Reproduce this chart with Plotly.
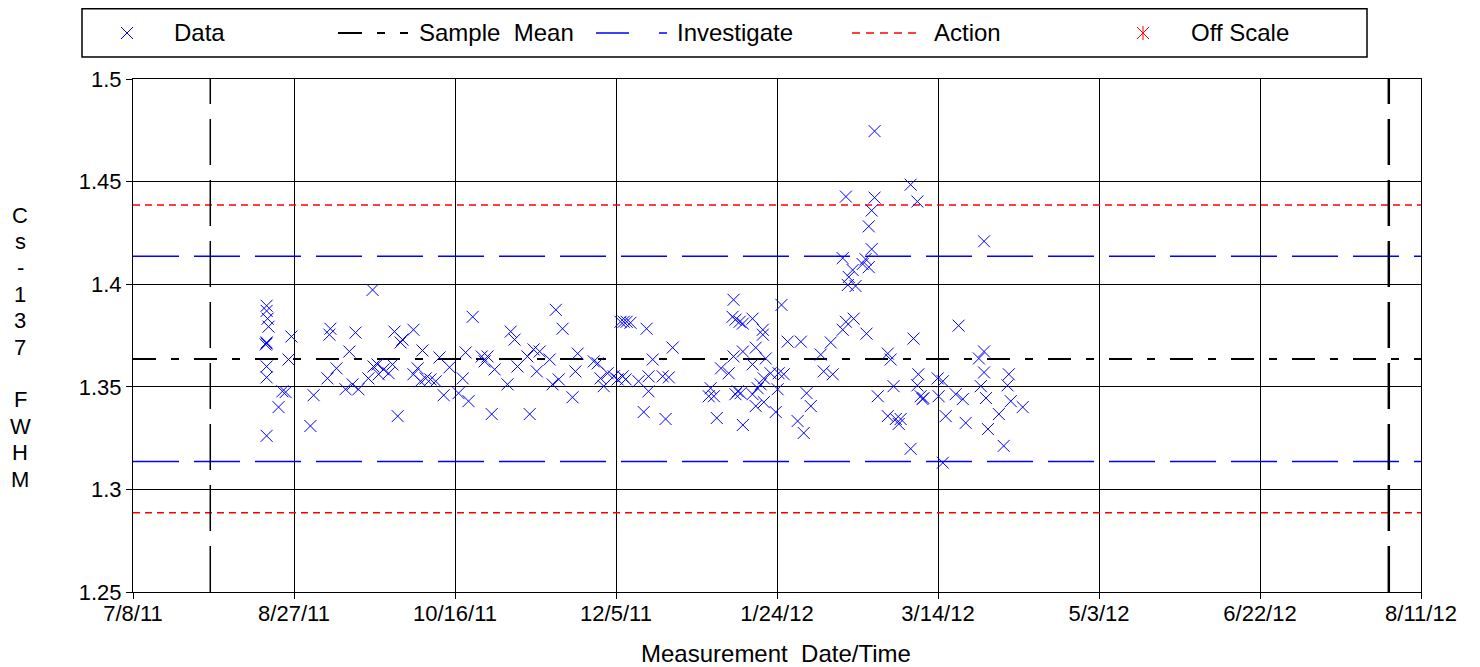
import plotly.graph_objects as go
import pandas as pd

# --- data --------------------------------------------------------------
start_date = "2011-07-08"
end_date = "2012-08-11"
tick_step_days = 50

# elapsed days since 7/8/11 and the Cs-137 FWHM value of each measurement
meas_days = [
    41.5, 41.5, 41.8, 42.1, 41.5, 41.5, 41.2, 41.5, 41.5, 41.5,
    49.2, 48.3, 46.4, 47.4, 45.2, 55.1, 56.1,
    61.3, 61.0, 63.2, 60.4, 67.2, 66.0, 68.2, 70.0, 69.1, 74.4,
    74.7, 75.9, 73.1, 76.3, 77.8, 80.6, 79.4,
    81.2, 87.1, 83.7, 83.1, 82.2,
    88.4, 89.9, 89.3, 90.9, 87.1,
    95.2, 98.3, 96.5, 94.0, 92.4,
    102.4, 101.1, 104.2, 103.3, 105.5,
    108.3, 110.1, 109.2, 112.3, 111.4,
    116.3, 117.3, 118.5, 119.4,
    123.2, 122.5, 124.4, 126.3, 125.4, 129.4,
    131.3, 133.4, 130.3, 132.2, 136.5, 137.4, 138.1,
    143.1, 144.3, 145.2, 147.4, 146.2, 149.3, 150.5, 152.1, 153.0,
    151.4, 152.4, 153.3, 154.5,
    159.5, 161.4, 167.6, 157.0, 160.1, 160.1, 164.5, 166.4, 158.6, 165.4,
    179.4, 178.8, 180.4, 181.3, 182.6, 185.0,
    186.5, 186.2, 187.1, 188.4, 189.4, 192.4,
    186.5, 189.4, 187.8, 188.7, 187.1, 189.4,
    192.4, 193.4, 195.6, 195.6, 192.4, 194.0, 194.9, 195.9, 193.4, 195.9,
    196.5, 198.0, 199.6, 200.2, 202.1, 200.5,
    201.4, 203.3, 207.4, 206.4, 208.3, 209.2, 210.5,
    213.6, 214.5, 217.3, 216.7, 220.4, 221.4, 223.8, 227.8,
    221.4, 230.3, 230.3, 241.5, 243.6, 229.4, 228.5, 229.4, 220.4, 227.5,
    228.5, 226.6, 223.5, 222.3, 222.0, 224.4,
    231.3, 234.4, 235.3, 236.2, 234.4, 236.9, 238.4, 237.8, 241.5, 242.4,
    243.9, 243.6, 244.6, 245.5, 245.2, 249.9, 251.5, 250.2, 252.4, 251.5,
    256.4, 255.5, 257.7, 258.6, 264.3, 262.7, 264.3, 263.3, 264.9, 265.5,
    268.9, 270.4, 272.0, 271.6, 272.6, 276.3,
    264.3,
]
fwhm = [
    1.3895, 1.3870, 1.3832, 1.3793, 1.3716, 1.3711, 1.3706, 1.3599, 1.3546, 1.3261,
    1.3745, 1.3633, 1.3478, 1.3474, 1.3401, 1.3309, 1.3459,
    1.3783, 1.3754, 1.3590, 1.3541, 1.3672, 1.3488, 1.3512, 1.3488, 1.3764, 1.3972,
    1.3599, 1.3609, 1.3541, 1.3561, 1.3585, 1.3609, 1.3566,
    1.3769, 1.3778, 1.3730, 1.3716, 1.3357,
    1.3590, 1.3677, 1.3527, 1.3541, 1.3561,
    1.3643, 1.3595, 1.3459, 1.3527, 1.3536,
    1.3541, 1.3469, 1.3430, 1.3667, 1.3841,
    1.3648, 1.3648, 1.3624, 1.3585, 1.3367,
    1.3512, 1.3769, 1.3730, 1.3599,
    1.3367, 1.3648, 1.3682, 1.3672, 1.3575, 1.3633,
    1.3875, 1.3783, 1.3512, 1.3536, 1.3449, 1.3575, 1.3662,
    1.3624, 1.3614, 1.3541, 1.3566, 1.3503, 1.3551, 1.3536, 1.3551, 1.3536,
    1.3817, 1.3817, 1.3817, 1.3812,
    1.3783, 1.3633, 1.3691, 1.3527, 1.3551, 1.3478, 1.3551, 1.3546, 1.3377, 1.3343,
    1.3493, 1.3454, 1.3454, 1.3348, 1.3590, 1.3566,
    1.3924, 1.3841, 1.3827, 1.3817, 1.3808, 1.3832,
    1.3648, 1.3672, 1.3478, 1.3469, 1.3464, 1.3314,
    1.3609, 1.3691, 1.3778, 1.3754, 1.3464, 1.3493, 1.3512, 1.3541, 1.3406, 1.3425,
    1.3638, 1.3566, 1.3377, 1.3488, 1.3561, 1.3566,
    1.3899, 1.3720, 1.3720, 1.3333, 1.3275, 1.3469, 1.3406,
    1.3657, 1.3575, 1.3561, 1.3716, 1.3778, 1.3817, 1.3832, 1.3759,
    1.4427, 1.4746, 1.4422, 1.4485, 1.4403, 1.4359, 1.4282, 1.4171, 1.4127, 1.4122,
    1.4083, 1.4098, 1.4069, 1.4035, 1.3996, 1.3991,
    1.3454, 1.3662, 1.3633, 1.3503, 1.3357, 1.3343, 1.3343, 1.3319, 1.3198, 1.3735,
    1.3561, 1.3507, 1.3454, 1.3445, 1.3440, 1.3541, 1.3527, 1.3454, 1.3357, 1.3130,
    1.3798, 1.3464, 1.3440, 1.3324, 1.3672, 1.3638, 1.3570, 1.3503, 1.3445, 1.3294,
    1.3367, 1.3212, 1.3561, 1.3507, 1.3430, 1.3401,
    1.4209,
]
assert len(meas_days) == len(fwhm)

sample_mean = 1.3636
investigate_limits = [1.4136, 1.3136]
action_limits = [1.4386, 1.2886]
window_lines = ["2011-08-01", "2012-08-01"]   # vertical dashed markers
y_range = [1.25, 1.5]
y_ticks = [1.25, 1.3, 1.35, 1.4, 1.45, 1.5]
y_ticktext = ["1.25", "1.3", "1.35", "1.4", "1.45", "1.5"]
y_title = "Cs-137 FWHM"
legend_labels = ["Data", "Sample\u00a0\u00a0Mean", "Investigate", "Action", "Off Scale"]

# --- helpers -------------------------------------------------------------
dates = pd.Timestamp(start_date) + pd.to_timedelta(meas_days, unit="D")
x0, x1 = pd.Timestamp(start_date), pd.Timestamp(end_date)
tick_dates = pd.date_range(x0, x1, freq=f"{tick_step_days}D")
tick_text = [f"{d.month}/{d.day}/{d.strftime('%y')}" for d in tick_dates]

# the page puts the figure 8px in from the top-left corner
PAGE = 8
W, H = 1480 - PAGE, 667 - PAGE
L, R, T, B = 133, 1421, 79, 592   # plot area in window pixels


def px_x(p):
    return (p - L) / (R - L)


def px_y(p):
    return (B - p) / (B - T)


FONT = "Liberation Sans, Arial, sans-serif"
BLUE, RED, BLACK = "#0000ff", "#ff0000", "#000000"
MEAN_DASH = "23px,15px,8px,15px"
INV_DASH = "46px,15px"
ACT_DASH = "7px,5px"

fig = go.Figure()

# horizontal control lines
def hline(y, color, dash, width):
    fig.add_trace(go.Scatter(
        x=[x0, x1], y=[y, y], mode="lines", showlegend=False,
        line=dict(color=color, dash=dash, width=width), hoverinfo="skip",
    ))

for v in action_limits:
    hline(v, RED, ACT_DASH, 1.5)
for v in investigate_limits:
    hline(v, BLUE, INV_DASH, 1.6)
hline(sample_mean, BLACK, MEAN_DASH, 2)

# vertical window lines
for d, w in zip(window_lines, [1.5, 2.5]):
    fig.add_trace(go.Scatter(
        x=[d, d], y=y_range, mode="lines", showlegend=False,
        line=dict(color=BLACK, dash=INV_DASH, width=w), hoverinfo="skip",
    ))

fig.add_trace(go.Scatter(
    x=dates, y=fwhm, mode="markers", name="Data",
    marker=dict(symbol="x-thin", size=12, color=BLUE,
                line=dict(color=BLUE, width=1)),
    showlegend=False,
))

# --- hand-drawn legend across the top ------------------------------------
leg_y = 33


def seg(xa, ya, xb, yb, color, width=1, dash="solid"):
    return dict(type="line", xref="paper", yref="paper",
                x0=px_x(xa), x1=px_x(xb), y0=px_y(ya), y1=px_y(yb),
                line=dict(color=color, width=width, dash=dash))


shapes = [dict(type="rect", xref="paper", yref="paper",
               x0=px_x(82), x1=px_x(1367), y0=px_y(57), y1=px_y(PAGE + 0.8),
               line=dict(color=BLACK, width=1.5))]
shapes += [seg(338, leg_y, 410, leg_y, BLACK, 2, "24px,15px,8px,15px,8px,40px"),
           seg(596, leg_y, 668, leg_y, BLUE, 1.6, "33px,30px,8px,40px"),
           seg(852, leg_y, 922, leg_y, RED, 1.5, "8px,6px")]
# "x" marker for Data, star (x plus vertical bar) for Off Scale
for cx, col in [(127, BLUE), (1143, RED)]:
    shapes += [seg(cx - 6, leg_y - 6, cx + 6, leg_y + 6, col),
               seg(cx - 6, leg_y + 6, cx + 6, leg_y - 6, col)]
shapes.append(seg(1143, leg_y - 7, 1143, leg_y + 7, RED))

annotations = []
for xp, txt in zip([175, 420, 678, 935, 1192], legend_labels):
    annotations.append(dict(xref="paper", yref="paper", x=px_x(xp - 3), y=px_y(leg_y),
                            text=txt, showarrow=False, xanchor="left", yanchor="middle",
                            font=dict(family=FONT, size=24, color=BLACK)))

# axis titles
annotations.append(dict(xref="paper", yref="paper", x=px_x(776), y=px_y(653),
                        text="Measurement\u00a0\u00a0Date/Time", showarrow=False,
                        xanchor="center", yanchor="middle",
                        font=dict(family=FONT, size=24, color=BLACK)))
for i, c in enumerate(y_title):
    if c != " ":
        annotations.append(dict(xref="paper", yref="paper", x=px_x(20),
                                y=px_y(215 + i * 26.4), text=c, showarrow=False,
                                xanchor="center", yanchor="middle",
                                font=dict(family=FONT, size=22, color=BLACK)))

axis_common = dict(showline=True, mirror=True, linecolor=BLACK, linewidth=1,
                   showgrid=True, gridcolor=BLACK, gridwidth=1, zeroline=False,
                   ticks="outside", ticklen=6, tickcolor=BLACK,
                   tickfont=dict(family=FONT, size=22, color=BLACK))

fig.update_layout(
    width=W, height=H,
    margin=dict(l=L - PAGE, r=PAGE + W - R, t=T - PAGE, b=PAGE + H - B,
                autoexpand=False),
    paper_bgcolor="white", plot_bgcolor="white",
    showlegend=False,
    xaxis=dict(range=[x0, x1], tickmode="array", tickvals=tick_dates,
               ticktext=tick_text, ticklabelstandoff=-4, **axis_common),
    yaxis=dict(range=y_range, tickmode="array", tickvals=y_ticks,
               ticktext=y_ticktext, **axis_common),
    shapes=shapes,
    annotations=annotations,
)

fig.write_html("out.html")
